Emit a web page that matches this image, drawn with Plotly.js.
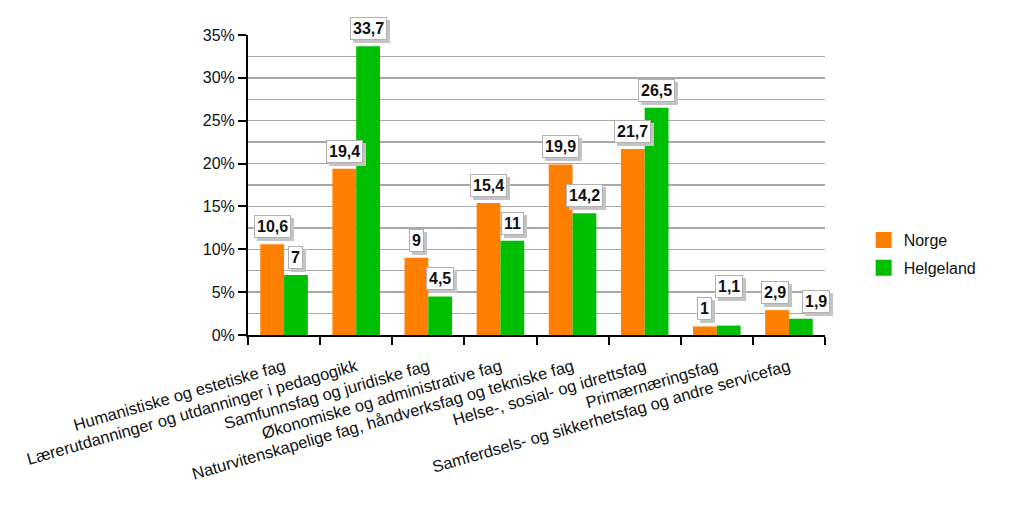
<!DOCTYPE html>
<html>
<head>
<meta charset="utf-8">
<script src="https://cdn.plot.ly/plotly-3.0.1.min.js"></script>
<style>
  html, body { margin: 0; padding: 0; background: #fff; }
  #chart { width: 1024px; height: 512px; }
</style>
</head>
<body>
<div id="chart"></div>
<script>
// Fagområder
const categories = [
  'Humanistiske og estetiske fag',
  'Lærerutdanninger og utdanninger i pedagogikk',
  'Samfunnsfag og juridiske fag',
  'Økonomiske og administrative fag',
  'Naturvitenskapelige fag, håndverksfag og tekniske fag',
  'Helse-, sosial- og idrettsfag',
  'Primærnæringsfag',
  'Samferdsels- og sikkerhetsfag og andre servicefag'
];

// Andel i prosent
const norge = [10.6, 19.4, 9, 15.4, 19.9, 21.7, 1, 2.9];
const helgeland = [7, 33.7, 4.5, 11, 14.2, 26.5, 1.1, 1.9];

const yTicks = [0, 5, 10, 15, 20, 25, 30, 35];
const yTickText = yTicks.map(v => v + '%');

const orange = '#ff8000';
const green = '#00bf00';
const font = 'Liberation Sans, Arial, sans-serif';

const traces = [
  { type: 'bar', name: 'Norge', x: categories, y: norge,
    marker: { color: orange }, showlegend: false, hoverinfo: 'none' },
  { type: 'bar', name: 'Helgeland', x: categories, y: helgeland,
    marker: { color: green }, showlegend: false, hoverinfo: 'none' },
  // legendeoppføringer med større firkanter
  { type: 'scatter', mode: 'markers', name: 'Norge', x: [categories[0]], y: [null],
    marker: { symbol: 'square', size: 16, color: orange }, legendgroup: 'a' },
  { type: 'scatter', mode: 'markers', name: 'Helgeland', x: [categories[0]], y: [null],
    marker: { symbol: 'square', size: 16, color: green }, legendgroup: 'b' }
];

// Verdietiketter i bokser (med skygge), plassert over hver søyle
const halfBar = (1 - 0.34) / 4;
// Excel flytter noen etiketter for å unngå overlapp: [dx, dy] i piksler
const nudge = {
  'Primærnæringsfag': [[0, 0], [0, 22]],
  'Samferdsels- og sikkerhetsfag og andre servicefag': [[-2, 0], [15, 0]]
};
const annotations = [];
function addLabel(i, v, side, k) {
  const txt = String(v).replace('.', ',');
  const n = nudge[categories[i]] ? nudge[categories[i]][k] : [0, 0];
  const base = {
    xref: 'x', yref: 'y', x: i + side * halfBar, y: v,
    xanchor: 'center', yanchor: 'bottom', showarrow: false,
    text: txt, borderpad: 2, borderwidth: 1
  };
  annotations.push(Object.assign({}, base, {
    xshift: n[0] + 3, yshift: 3 + n[1],
    font: { family: font, size: 16, color: 'rgba(0,0,0,0)', weight: 'bold' },
    bgcolor: '#c4c4c4', bordercolor: '#c4c4c4'
  }));
  annotations.push(Object.assign({}, base, {
    xshift: n[0], yshift: 6 + n[1],
    font: { family: font, size: 16, color: '#111', weight: 'bold' },
    bgcolor: '#ffffff', bordercolor: '#b0b0b0'
  }));
}
norge.forEach((v, i) => addLabel(i, v, -1, 0));
helgeland.forEach((v, i) => addLabel(i, v, 1, 1));

const layout = {
  width: 1024, height: 512,
  margin: { l: 248, r: 199, t: 35, b: 177 },
  paper_bgcolor: '#fff', plot_bgcolor: '#fff',
  font: { family: font, size: 16, color: '#111' },
  bargap: 0.34, bargroupgap: 0,
  barmode: 'group',
  showlegend: true,
  legend: {
    x: 1.067, xanchor: 'left', y: 0.27, yanchor: 'middle',
    font: { family: font, size: 16, color: '#111' },
    tracegroupgap: 4, bgcolor: 'rgba(0,0,0,0)'
  },
  xaxis: {
    type: 'category', tickson: 'boundaries',
    range: [-0.5, categories.length - 0.5],
    ticks: 'outside', ticklen: 8, tickwidth: 2, tickcolor: '#000',
    showline: true, linecolor: '#000', linewidth: 2,
    showgrid: false, tickangle: -16, ticklabelstandoff: 14,
    tickfont: { family: font, size: 16.5, color: '#111' },
    automargin: false
  },
  yaxis: {
    range: [0, 35], tickvals: yTicks, ticktext: yTickText,
    ticks: 'outside', ticklen: 8, tickwidth: 2, tickcolor: '#000',
    showline: true, linecolor: '#000', linewidth: 2,
    showgrid: true, gridcolor: '#a8a8a8', gridwidth: 1.5,
    minor: { dtick: 2.5, showgrid: true, gridcolor: '#a8a8a8', gridwidth: 1.5, ticks: '' },
    zeroline: false,
    tickfont: { family: font, size: 16, color: '#111' },
    automargin: false
  },
  annotations: annotations
};

Plotly.newPlot('chart', traces, layout, { staticPlot: true });
</script>
</body>
</html>
